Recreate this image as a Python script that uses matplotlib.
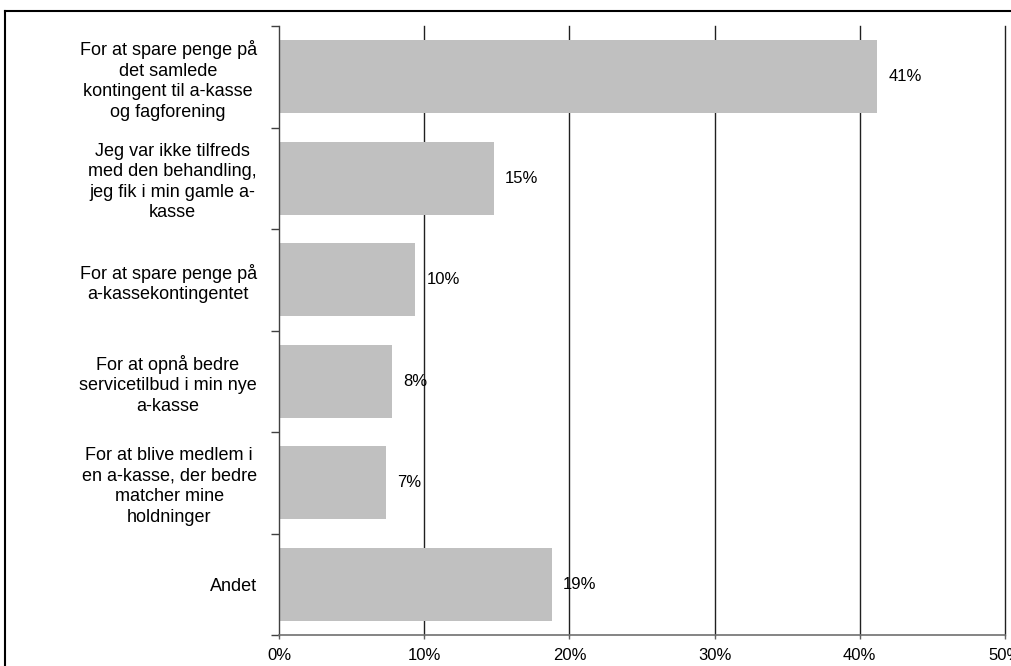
import matplotlib
matplotlib.use("Agg")
import matplotlib.pyplot as plt
from matplotlib.lines import Line2D

categories = [
    "For at spare penge på\ndet samlede\nkontingent til a-kasse\nog fagforening",
    "Jeg var ikke tilfreds\nmed den behandling,\njeg fik i min gamle a-\nkasse",
    "For at spare penge på\na-kassekontingentet",
    "For at opnå bedre\nservicetilbud i min nye\na-kasse",
    "For at blive medlem i\nen a-kasse, der bedre\nmatcher mine\nholdninger",
    "Andet",
]
values = [41.2, 14.8, 9.4, 7.8, 7.4, 18.8]
value_labels = ["41%", "15%", "10%", "8%", "7%", "19%"]
xticks = [0, 10, 20, 30, 40, 50]
xtick_labels = ["0%", "10%", "20%", "30%", "40%", "50%"]

plt.rcParams['font.family'] = ['Liberation Sans', 'DejaVu Sans']

fig = plt.figure(figsize=(10.11, 6.66), dpi=100)
W, H = 1011, 666
ax = fig.add_axes([279 / W, 1 - 635 / H, (1005 - 279) / W, (635 - 26) / H])

n = len(categories)
ypos = list(range(n))
ax.barh(ypos, values, height=0.72, color="#C0C0C0", edgecolor="none", zorder=2)
ax.set_ylim(n - 0.5, -0.5)
ax.set_xlim(0, 50)

ax.set_xticks(xticks)
ax.set_xticklabels(xtick_labels, fontsize=12)
ax.set_yticks(ypos)
ax.set_yticklabels(categories, fontsize=13, multialignment="center", linespacing=1.26)
ax.tick_params(axis="y", which="major", length=0, pad=16)
ax.tick_params(axis="x", length=3, width=1, color="#606060", pad=6)

# category boundary ticks
ax.set_yticks([i - 0.5 for i in range(n + 1)], minor=True)
ax.tick_params(axis="y", which="minor", length=6, width=1, color="#404040")

for xv in xticks[1:]:
    ax.axvline(xv, color="#202020", linewidth=1, zorder=1, clip_on=False)
for s in ["top", "right"]:
    ax.spines[s].set_visible(False)
ax.spines["left"].set_color("#404040")
ax.spines["bottom"].set_color("#707070")
ax.spines["left"].set_linewidth(1)
ax.spines["bottom"].set_linewidth(1.2)

for y, v, lab in zip(ypos, values, value_labels):
    ax.annotate(lab, (v, y), xytext=(8, 0), textcoords="offset points",
                va="center", ha="left", fontsize=12, zorder=3)

# outer frame
fig.add_artist(Line2D([5 / W, 1.0], [1 - 11 / H, 1 - 11 / H], transform=fig.transFigure,
                      color="black", linewidth=1.5))
fig.add_artist(Line2D([5 / W, 5 / W], [0, 1 - 11 / H], transform=fig.transFigure,
                      color="black", linewidth=1.5))

fig.savefig("out.png", dpi=100)
